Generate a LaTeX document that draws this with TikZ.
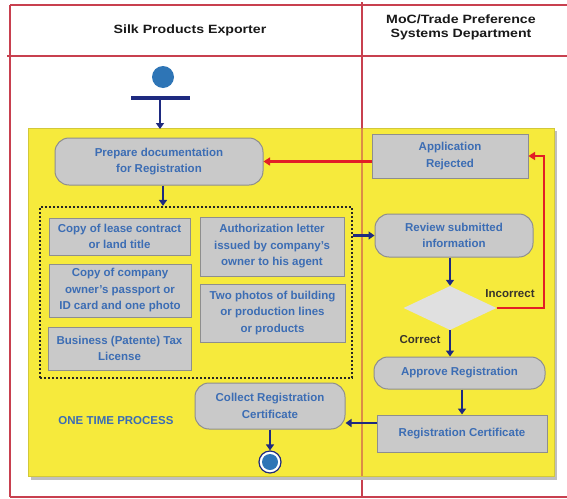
\documentclass[tikz,border=0pt]{standalone}
\usepackage{fontspec}
\setmainfont{Liberation Sans}
\newfontfamily\hdrfont[FakeStretch=1.18]{Liberation Sans}
\usetikzlibrary{arrows.meta,shapes.geometric,calc}

\definecolor{laneline}{HTML}{C8404F}
\definecolor{zone}{HTML}{F6EA3C}
\definecolor{zoneedge}{HTML}{D2C83A}
\definecolor{boxfill}{HTML}{C9C9C9}
\definecolor{boxedge}{HTML}{8E8E8E}
\definecolor{txtblue}{HTML}{3C6DB4}
\definecolor{navy}{HTML}{1E2A80}
\definecolor{dotblue}{HTML}{2E75B6}
\definecolor{rejred}{HTML}{E21E26}

\tikzset{
  lane/.style={draw=laneline, line width=1.6pt},
  hdr/.style={font=\hdrfont\bfseries\fontsize{12}{14}\selectfont, text=black!90, align=center},
  body/.style={font=\bfseries\fontsize{11.5}{16.5}\selectfont, text=txtblue, align=center},
  actbox/.style={body, draw=boxedge, fill=boxfill, line width=1pt, rounded corners=14pt, inner sep=0pt},
  docbox/.style={body, draw=boxedge, fill=boxfill, line width=1pt, inner sep=0pt},
  flow/.style={draw=navy, line width=2.2pt, -{Triangle[length=6pt,width=8pt]}},
  reject/.style={draw=rejred, line width=2.4pt, -{Triangle[length=6.5pt,width=8pt]}},
  guard/.style={font=\bfseries\fontsize{11.5}{14}\selectfont, text=black!80!olive},
}

\begin{document}
\begin{tikzpicture}[x=1pt,y=-1pt]
\useasboundingbox (0,0) rectangle (567,498);
\fill[white] (0,0) rectangle (567,498);

% swimlane frame
\draw[lane] (10,5) -- (567,5);
\draw[lane] (7,56) -- (567,56);
\draw[lane] (10,5) -- (10,497);
\draw[lane] (10,497) -- (567,497);
\draw[lane] (362,2) -- (362,497);

\node[hdr] (lane1) at (190,30) {Silk Products Exporter};
\node[hdr] (lane2) at (461,27) {MoC/Trade Preference\\Systems Department};

% shaded activity area
\fill[black!25] (31,131) rectangle (557,480);
\draw[fill=zone, draw=zoneedge, line width=0.8pt] (28,128) rectangle (554,476);
\draw[laneline, line width=1.6pt, opacity=0.55] (362,128) -- (362,476);

% start
\node[circle, fill=dotblue, minimum size=22pt, inner sep=0pt] (start) at (163,77) {};
\draw[navy, line width=3.5pt] (131,98) -- (190,98);
\coordinate (bar) at (160,99);
\coordinate (zonetop) at (160,129);
\draw[flow] (bar) -- (zonetop);

% exporter activities
\node[actbox, minimum width=208pt, minimum height=47pt] (prep) at (159,161.5) {Prepare documentation\\for Registration};

\node[draw=black!85, line width=2.2pt, dash pattern=on 2pt off 2pt, minimum width=312pt, minimum height=171pt, inner sep=0pt] (docs) at (196,292.5) {};

\node[docbox, minimum width=141pt, minimum height=37pt] (lease) at (119.5,236.5) {Copy of lease contract\\or land title};
\node[docbox, minimum width=142pt, minimum height=53pt] (owner) at (120,290.5) {Copy of company\\owner's passport or\\ID card and one photo};
\node[docbox, minimum width=143pt, minimum height=43pt] (tax) at (119.5,348.5) {Business (Patente) Tax\\License};
\node[docbox, minimum width=144pt, minimum height=59pt] (auth) at (272,246.5) {Authorization letter\\issued by company's\\owner to his agent};
\node[docbox, minimum width=145pt, minimum height=58pt] (photos) at (272.5,313) {Two photos of building\\or production lines\\or products};

\node[body] (once) at (116,421) {ONE TIME PROCESS};

\node[actbox, minimum width=150pt, minimum height=46pt] (collect) at (270,406) {Collect Registration\\Certificate};

\node[circle, draw=navy, fill=white, line width=1.2pt, minimum size=22pt, inner sep=0pt] (stop) at (270,462) {};
\fill[dotblue] (stop.center) circle (8pt);

% department activities
\node[docbox, minimum width=156pt, minimum height=44pt] (rejected) at (450,156) {Application\\Rejected};
\node[actbox, minimum width=158pt, minimum height=43pt] (review) at (454,235.5) {Review submitted\\information};
\node[diamond, fill=black!12, minimum width=93pt, minimum height=44pt, inner sep=0pt] (check) at (450,308) {};
\node[actbox, minimum width=171pt, minimum height=32pt] (approve) at (459.5,373) {Approve Registration};
\node[docbox, minimum width=170pt, minimum height=37pt] (cert) at (462,433.5) {Registration Certificate};

% flows
\draw[flow] ([xshift=4pt]prep.south) -- ([xshift=4pt]prep.south |- docs.north);
\draw[flow] (docs.east |- review.west) -- (review.west);
\draw[flow] (check.north |- review.south) -- (check.north);
\draw[flow] (check.south) -- (check.south |- approve.north);
\draw[flow] (cert.north |- approve.south) -- (cert.north);
\coordinate (certout) at ($(cert.west)+(0,-10.5)$);
\draw[flow] (certout) -- (collect.east |- certout);
\draw[flow] (stop.north |- collect.south) -- (stop.north);

\draw[reject] (rejected.west |- prep.east) -- (prep.east);
\draw[reject] (check.east) -- ++(47,0) |- (rejected.east);

\node[guard] (incorrect) at (510,294) {Incorrect};
\node[guard] (correct) at (420,340) {Correct};
\end{tikzpicture}
\end{document}
